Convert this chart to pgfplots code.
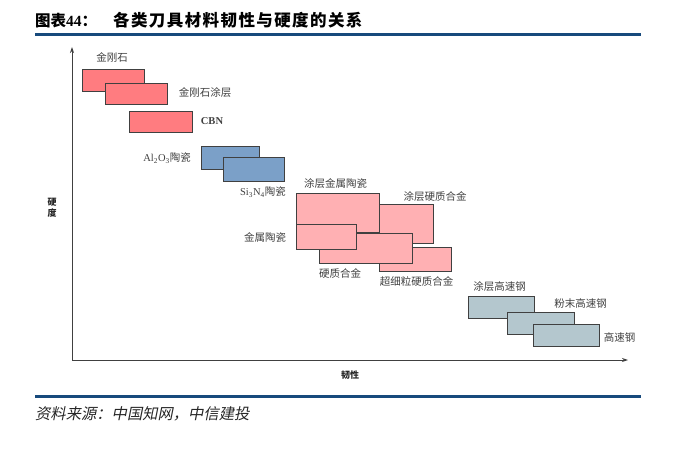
\documentclass[border=0pt]{standalone}
\usepackage{pgfplots}
\pgfplotsset{compat=1.18}
\usetikzlibrary{arrows.meta}
\usepackage{fontspec}
\setmainfont{Liberation Serif}
\newfontfamily\cjk{Noto Sans CJK SC}
\newfontfamily\cjkit[FakeSlant=0.2]{Noto Sans CJK SC}

\definecolor{hdblue}{HTML}{174A7C}
\definecolor{edge}{HTML}{404040}
\definecolor{lbl}{HTML}{404040}
\definecolor{redbox}{HTML}{FF7C80}
\definecolor{bluebox}{HTML}{7BA0C8}
\definecolor{pinkbox}{HTML}{FFB0B3}
\definecolor{greybox}{HTML}{B4C7CE}

\begin{document}
\begin{tikzpicture}[
  box/.style={draw=edge, line width=0.9pt},
  lab/.style={text=lbl, font=\cjk\fontsize{10.5bp}{12bp}\selectfont, inner sep=0pt},
]
\begin{axis}[
  scale only axis, width=700bp, height=472bp,
  xmin=0, xmax=700, ymin=-472, ymax=0,
  hide axis, clip=false,
]
\path (axis cs:0,0) rectangle (axis cs:700,-472);

% header and footer
\draw[hdblue, line width=2.8bp] (35,-34.8) -- (641,-34.8);
\draw[hdblue, line width=2.8bp] (35,-396.5) -- (641,-396.5);
\node[anchor=west, inner sep=0pt] at (35,-20)
  {\cjk\bfseries\fontsize{15.5bp}{18bp}\selectfont 图表{\rmfamily\bfseries 44}：\hspace{16bp}{\fontsize{16.5bp}{18bp}\selectfont\addfontfeature{LetterSpace=8.5}各类刀具材料韧性与硬度的关系}};
\node[anchor=west, inner sep=0pt, text=black!85] at (35,-414)
  {\cjkit\fontsize{15.3bp}{17bp}\selectfont 资料来源：中国知网，中信建投};

% axes
\draw[edge, line width=1pt, -{Stealth[length=6bp,width=4bp]}] (72,-360) -- (72,-47);
\draw[edge, line width=1pt, -{Stealth[length=6bp,width=4bp]}] (72,-360) -- (628,-360);
\node[text=black!85, font=\cjk\bfseries\fontsize{9bp}{10.5bp}\selectfont, align=center, inner sep=0pt] at (52,-208) {硬\\度};
\node[text=black!85, font=\cjk\bfseries\fontsize{9bp}{10bp}\selectfont, inner sep=0pt] at (350,-375) {韧性};

% super-hard materials
\addplot[box, fill=redbox] coordinates {(82,-69) (144,-69) (144,-91) (82,-91)} -- cycle;
\addplot[box, fill=redbox] coordinates {(105,-83.5) (167,-83.5) (167,-104.5) (105,-104.5)} -- cycle;
\addplot[box, fill=redbox] coordinates {(129.5,-111) (192,-111) (192,-132) (129.5,-132)} -- cycle;
% ceramics
\addplot[box, fill=bluebox] coordinates {(201,-146) (259.5,-146) (259.5,-169) (201,-169)} -- cycle;
\addplot[box, fill=bluebox] coordinates {(223.5,-157) (284,-157) (284,-181.5) (223.5,-181.5)} -- cycle;
% cermets and cemented carbides
\addplot[box, fill=pinkbox] coordinates {(379,-204.5) (433,-204.5) (433,-243.5) (379,-243.5)} -- cycle;
\addplot[box, fill=pinkbox] coordinates {(379.5,-247.5) (451.5,-247.5) (451.5,-271.5) (379.5,-271.5)} -- cycle;
\addplot[box, fill=pinkbox] coordinates {(296,-193.5) (379,-193.5) (379,-232.5) (296,-232.5)} -- cycle;
\addplot[box, fill=pinkbox] coordinates {(319,-233.5) (412.5,-233.5) (412.5,-263) (319,-263)} -- cycle;
\addplot[box, fill=pinkbox] coordinates {(296,-224) (356.5,-224) (356.5,-249) (296,-249)} -- cycle;
% high speed steels
\addplot[box, fill=greybox] coordinates {(468,-296) (534.5,-296) (534.5,-318.5) (468,-318.5)} -- cycle;
\addplot[box, fill=greybox] coordinates {(507.5,-312) (574.5,-312) (574.5,-334) (507.5,-334)} -- cycle;
\addplot[box, fill=greybox] coordinates {(533,-324.5) (599.5,-324.5) (599.5,-346.5) (533,-346.5)} -- cycle;

% labels
\node[lab] at (112,-57) {金刚石};
\node[lab] at (205,-93) {金刚石涂层};
\node[lab, font=\bfseries\fontsize{10.5bp}{12bp}\selectfont] at (212,-121) {CBN};
\node[lab, anchor=east] at (191,-158) {{\rmfamily Al\textsubscript{2}O\textsubscript{3}}陶瓷};
\node[lab] at (263,-192) {{\rmfamily Si\textsubscript{3}N\textsubscript{4}}陶瓷};
\node[lab] at (335.5,-184) {涂层金属陶瓷};
\node[lab] at (435,-197) {涂层硬质合金};
\node[lab] at (265,-237) {金属陶瓷};
\node[lab] at (340,-273) {硬质合金};
\node[lab] at (416.5,-281) {超细粒硬质合金};
\node[lab] at (499.5,-287) {涂层高速钢};
\node[lab] at (580.5,-303) {粉末高速钢};
\node[lab] at (619.5,-337) {高速钢};
\end{axis}
\end{tikzpicture}
\end{document}
